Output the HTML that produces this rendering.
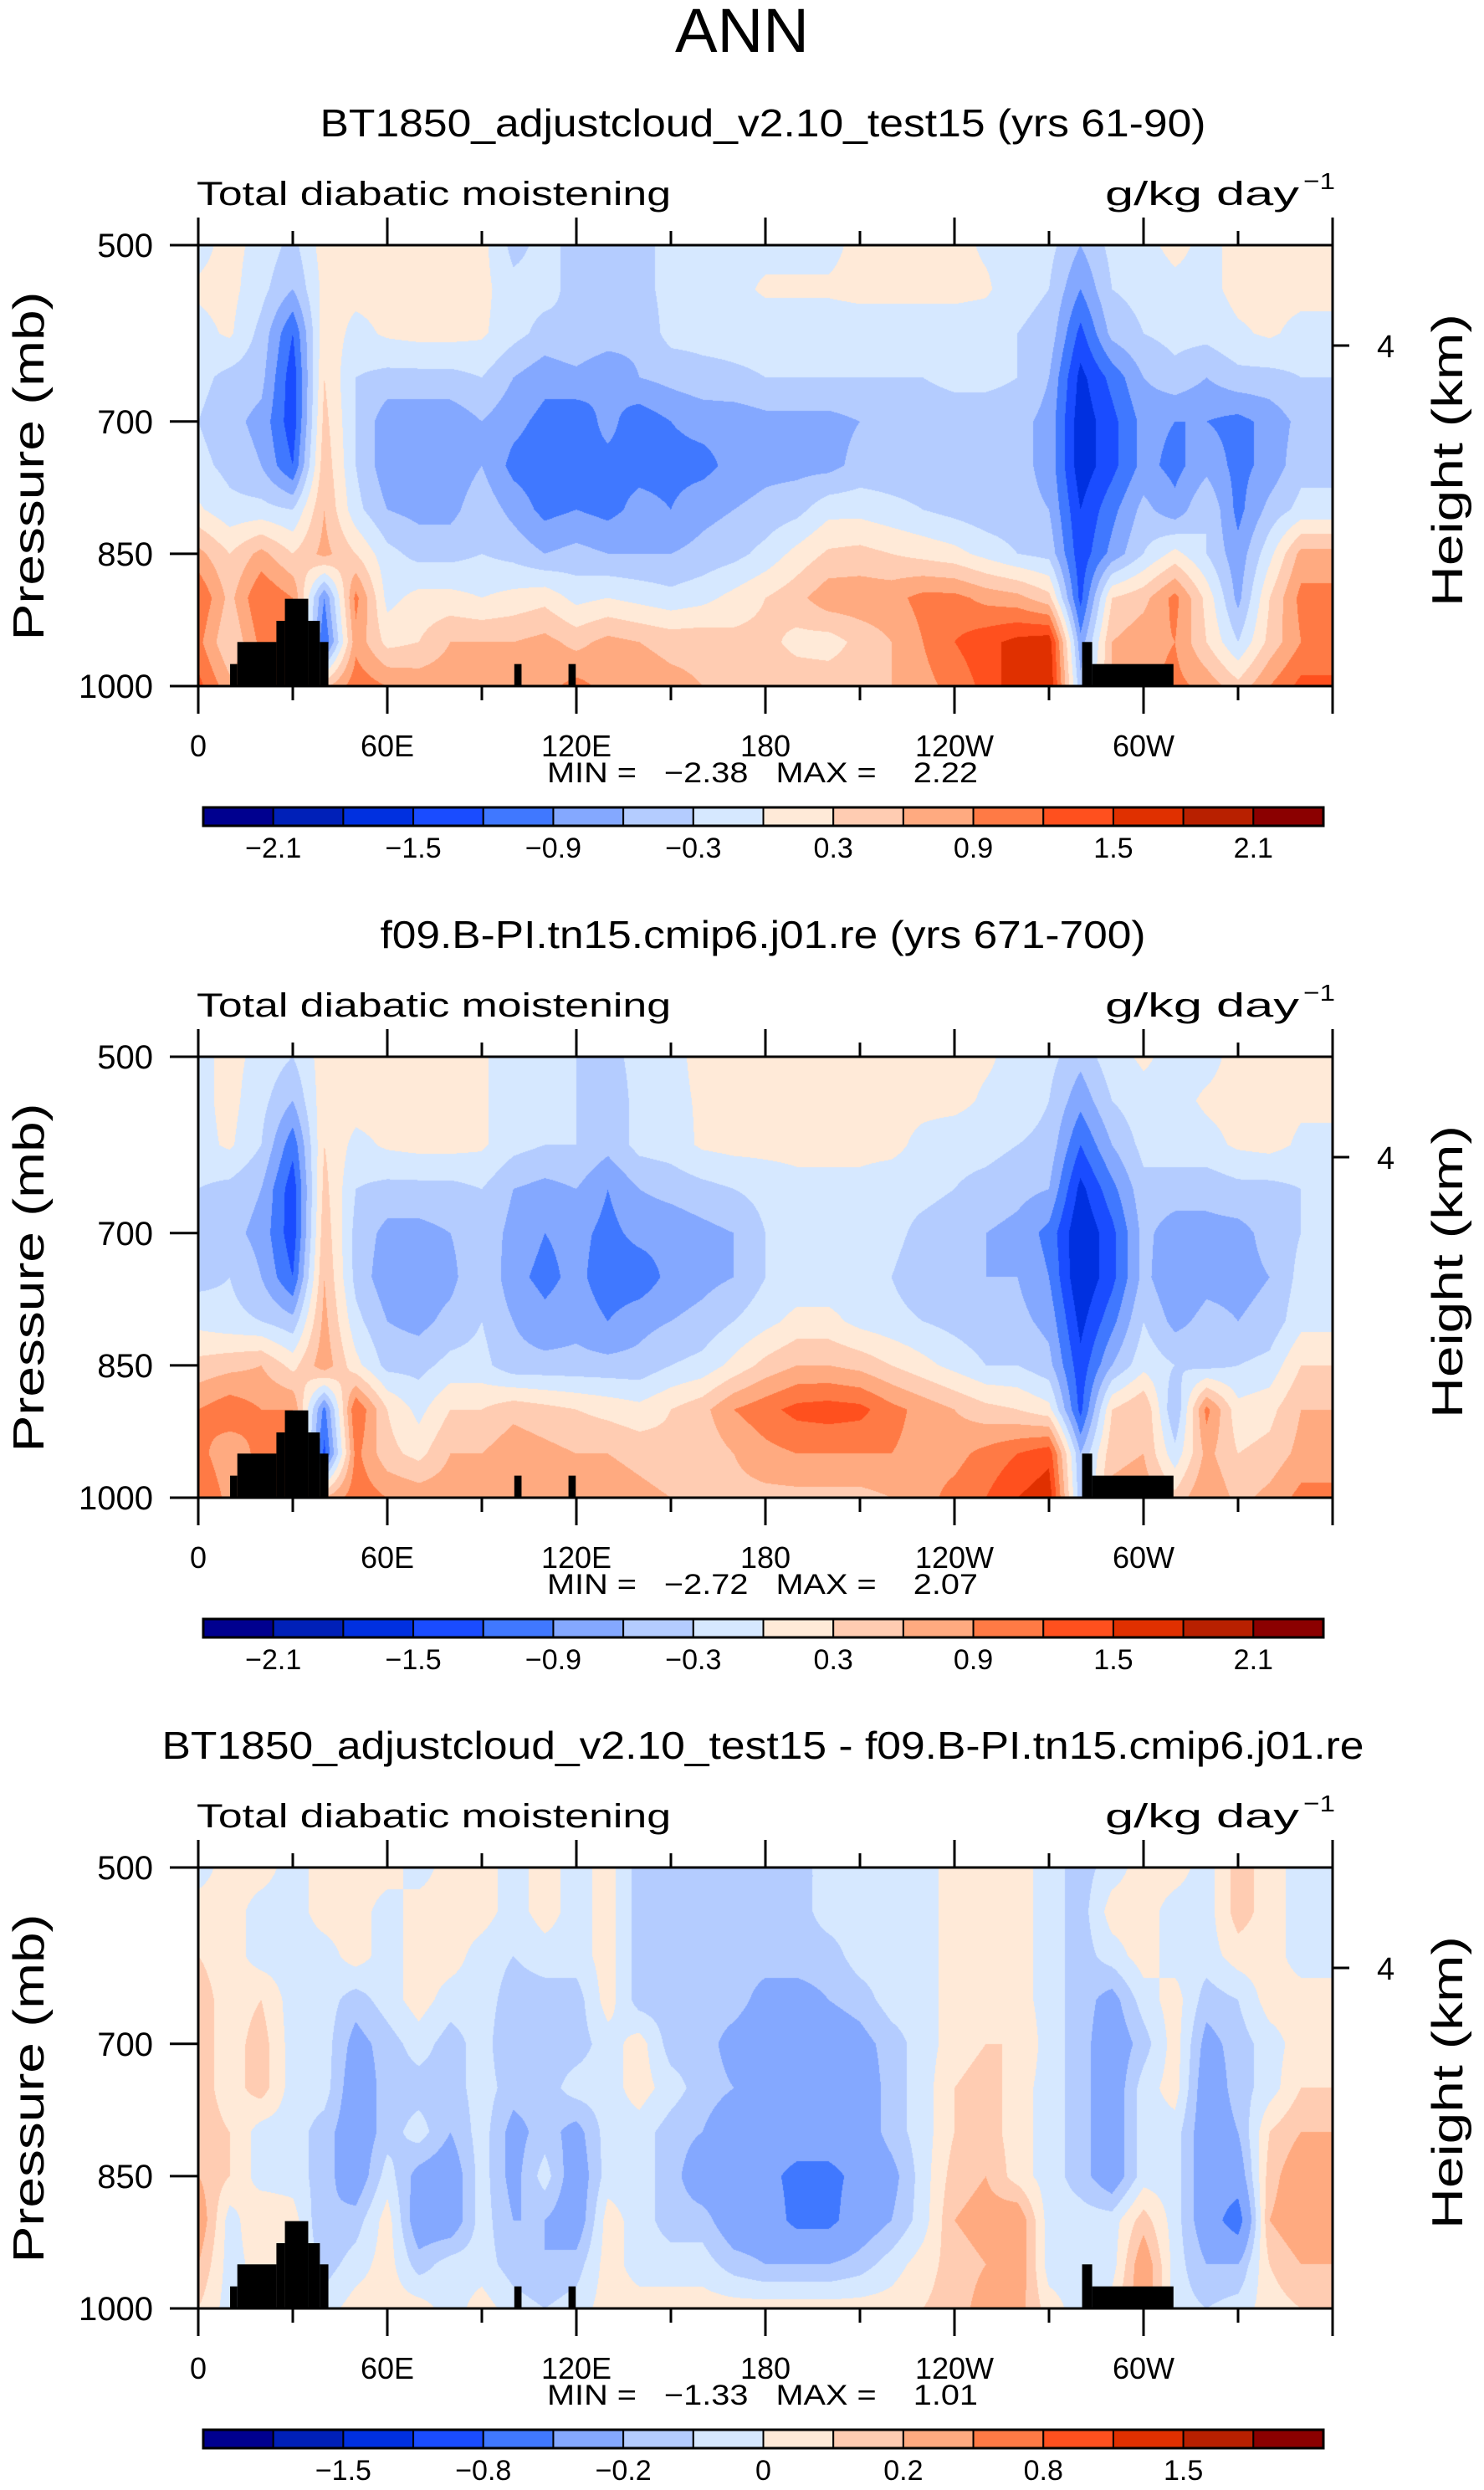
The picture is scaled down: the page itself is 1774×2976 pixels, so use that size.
<!DOCTYPE html>
<html><head><meta charset="utf-8">
<style>
html,body{margin:0;padding:0;background:#fff;}
#root{position:relative;width:1774px;height:2976px;overflow:hidden;background:#fff;}
canvas{position:absolute;}
svg{position:absolute;left:0;top:0;}
text{font-family:"Liberation Sans",sans-serif;fill:#000;}
.pre{white-space:pre;}
</style></head>
<body>
<div id="root">
<canvas id="c0" width="1356" height="527" style="left:237px;top:293px"></canvas>
<canvas id="c1" width="1356" height="527" style="left:237px;top:1263px"></canvas>
<canvas id="c2" width="1356" height="527" style="left:237px;top:2232px"></canvas>
<svg id="svg" width="1774" height="2976" xmlns="http://www.w3.org/2000/svg">
<text x="887" y="62" font-size="74" text-anchor="middle" textLength="160" lengthAdjust="spacingAndGlyphs" fill="#222">ANN</text>
</svg>
</div>
<script>
// ---------- data ----------
const lons = [0,10,20,30,40,50,60,70,80,90,100,110,120,130,140,150,160,170,180,190,200,210,220,230,240,250,260,270,280,290,300,310,320,330,340,350];
const levs = [500,550,600,650,700,750,800,850,900,950,1000];
const xTickLabels = ["0","60E","120E","180","120W","60W"];
const yTickLabels = [500,700,850,1000];
const mainLevels = [-2.1,-1.8,-1.5,-1.2,-0.9,-0.6,-0.3,0,0.3,0.6,0.9,1.2,1.5,1.8,2.1];
const diffLevels = [-1.8,-1.5,-1.2,-0.8,-0.4,-0.2,-0.1,0,0.1,0.2,0.4,0.8,1.2,1.5,1.8];
const mainBarLabels = ["−2.1","−1.5","−0.9","−0.3","0.3","0.9","1.5","2.1"];
const mainBarLabelIdx = [1,3,5,7,9,11,13,15];
const diffBarLabels = ["−1.5","−0.8","−0.2","0","0.2","0.8","1.5"];
const diffBarLabelIdx = [2,4,6,8,10,12,14];
const colors = ["#00008f","#0020b8","#0030e0","#1a4cff","#4078ff","#84a8ff","#b4ccff","#d6e8ff","#ffead8","#ffccb2","#ffaa80","#ff7a45","#ff501e","#e03000","#b82000","#8b0000"];
// topography blocks: [lon0, lon1, top pressure]
const topoLon0 = [10.1,12.4,24.8,27.5,34.9,38.6,100.3,117.5,280.5,283.7];
const topoLon1 = [12.4,24.8,27.5,34.9,38.6,41.3,102.6,119.8,283.7,309.5];
const topoTop  = [975,950,926,901,926,950,975,975,950,975];

const ctrlField = [
[-0.1,0.1,-0.1,-0.4,0.15,0.15,0.15,0.15,0.15,0.1,-0.4,-0.2,-0.4,-0.4,-0.4,-0.2,-0.2,-0.1,-0.1,-0.1,-0.1,0.1,0.1,0.1,0.1,-0.05,-0.1,-0.2,-0.6,-0.2,-0.1,0.1,-0.1,0.1,0.1,0.1],
[0.05,0.1,-0.2,-0.6,0.1,0.1,0.1,0.1,0.1,0.1,-0.2,-0.2,-0.4,-0.4,-0.4,-0.2,-0.2,-0.1,0.05,0.05,0.05,0.1,0.1,0.1,0.1,0.05,-0.2,-0.3,-0.9,-0.3,-0.2,-0.1,-0.1,0.1,0.1,0.1],
[-0.1,0.05,-0.4,-1.2,0.2,-0.1,0.05,0.1,0.1,0.05,-0.2,-0.4,-0.3,-0.4,-0.5,-0.2,-0.2,-0.2,-0.2,-0.2,-0.2,-0.2,-0.2,-0.2,-0.2,-0.2,-0.3,-0.4,-1.3,-0.5,-0.3,-0.2,-0.2,-0.05,0.05,-0.1],
[-0.2,-0.4,-0.5,-1.4,0.3,-0.3,-0.4,-0.4,-0.4,-0.3,-0.6,-0.8,-0.7,-0.9,-0.6,-0.5,-0.4,-0.35,-0.3,-0.3,-0.3,-0.3,-0.3,-0.3,-0.2,-0.2,-0.3,-0.6,-1.6,-1.1,-0.6,-0.4,-0.6,-0.4,-0.4,-0.3],
[-0.3,-0.5,-0.7,-1.4,0.4,-0.3,-0.8,-0.8,-0.8,-0.6,-0.8,-1.0,-1.1,-0.8,-1.1,-0.9,-0.8,-0.8,-0.7,-0.7,-0.7,-0.6,-0.5,-0.5,-0.5,-0.5,-0.5,-0.7,-1.7,-1.3,-0.8,-0.9,-0.9,-1.0,-0.8,-0.5],
[-0.2,-0.4,-0.6,-1.2,0.5,-0.3,-0.8,-0.8,-0.8,-0.6,-1.0,-1.1,-1.0,-1.0,-1.0,-1.0,-1.0,-0.8,-0.7,-0.7,-0.7,-0.5,-0.5,-0.5,-0.5,-0.5,-0.5,-0.7,-1.7,-1.3,-0.8,-1.0,-0.7,-1.0,-0.8,-0.4],
[0.05,-0.2,-0.2,-0.3,0.6,-0.2,-0.6,-0.7,-0.7,-0.4,-0.7,-1.0,-0.9,-1.0,-0.8,-0.9,-0.7,-0.6,-0.5,-0.4,-0.1,-0.1,-0.2,-0.3,-0.4,-0.5,-0.5,-0.6,-1.5,-1.0,-0.5,-0.8,-0.3,-1.0,-0.5,-0.2],
[0.7,0.3,0.7,0.3,0.7,0.3,-0.2,-0.4,-0.4,-0.3,-0.4,-0.6,-0.5,-0.6,-0.6,-0.6,-0.5,-0.4,-0.2,0.1,0.35,0.4,0.3,0.2,0.1,-0.1,-0.3,-0.4,-1.4,-0.8,-0.3,0.1,-0.3,-0.8,-0.1,0.7],
[1.2,0.5,1.2,0.9,-0.9,1.0,-0.1,0.1,0.1,0.0,0.1,0.2,-0.1,0.0,-0.1,-0.2,-0.1,0.1,0.3,0.5,0.8,0.8,0.8,1.0,1.0,0.8,0.7,0.4,-1.3,0.3,0.5,1.0,0.2,-0.7,0.3,1.0],
[1.0,0.3,1.0,1.0,-1.2,0.8,0.2,0.3,0.6,0.6,0.6,0.7,0.5,0.7,0.6,0.5,0.5,0.4,0.4,0.2,0.15,0.4,0.6,0.9,1.2,1.4,1.6,1.7,-0.8,0.6,0.8,0.9,0.3,-0.3,0.4,0.9],
[1.3,0.7,1.0,1.0,0.5,1.1,0.9,0.8,0.8,0.9,0.7,0.8,1.0,0.8,0.8,0.7,0.6,0.5,0.5,0.5,0.5,0.5,0.6,0.8,1.0,1.3,1.7,1.8,-0.5,0.6,0.8,1.0,0.8,0.4,0.9,1.3]
];
const refField = [
[-0.1,0.1,-0.1,-0.3,0.15,0.15,0.15,0.15,0.15,0.05,-0.2,-0.3,-0.3,-0.4,-0.2,-0.1,0.1,0.1,0.1,0.1,0.1,0.1,0.1,0.1,0.1,0.05,-0.1,-0.2,-0.5,-0.1,0.05,-0.1,-0.1,0.1,0.1,0.1],
[-0.1,0.1,-0.2,-0.6,0.2,0.15,0.15,0.15,0.15,0.05,-0.2,-0.2,-0.3,-0.5,-0.2,-0.1,0.05,0.1,0.1,0.1,0.1,0.1,0.1,0.1,0.1,-0.05,-0.1,-0.3,-0.8,-0.3,-0.1,-0.1,0.05,0.1,0.1,0.05],
[-0.1,0.05,-0.3,-1.1,0.3,-0.1,0.05,0.1,0.1,0.05,-0.2,-0.3,-0.3,-0.5,-0.2,-0.15,0.05,0.1,0.1,0.1,0.1,0.1,0.1,-0.1,-0.2,-0.2,-0.3,-0.4,-1.2,-0.6,-0.2,-0.2,-0.1,0.05,0.1,-0.05],
[-0.3,-0.4,-0.6,-1.4,0.4,-0.3,-0.4,-0.4,-0.4,-0.3,-0.6,-0.7,-0.6,-0.9,-0.6,-0.5,-0.4,-0.3,-0.2,-0.1,-0.1,-0.1,-0.2,-0.2,-0.3,-0.4,-0.5,-0.6,-1.6,-1.0,-0.4,-0.4,-0.5,-0.4,-0.4,-0.3],
[-0.4,-0.5,-0.7,-1.4,0.5,-0.4,-0.7,-0.7,-0.6,-0.4,-0.7,-0.9,-0.8,-1.0,-0.8,-0.8,-0.7,-0.6,-0.3,-0.2,-0.2,-0.2,-0.2,-0.4,-0.5,-0.6,-0.7,-1.0,-1.8,-1.3,-0.5,-0.8,-0.7,-0.7,-0.5,-0.3],
[-0.4,-0.3,-0.6,-1.2,0.6,-0.4,-0.8,-0.8,-0.7,-0.3,-0.8,-1.0,-0.8,-1.1,-1.1,-0.8,-0.7,-0.6,-0.3,-0.2,-0.2,-0.2,-0.3,-0.5,-0.6,-0.6,-0.6,-0.9,-1.8,-1.3,-0.5,-0.9,-0.7,-0.7,-0.6,-0.2],
[-0.1,-0.2,-0.3,-0.5,0.7,-0.2,-0.6,-0.7,-0.5,-0.3,-0.6,-0.8,-0.7,-0.9,-0.7,-0.6,-0.5,-0.3,-0.1,0.1,0.1,-0.1,-0.2,-0.3,-0.4,-0.5,-0.5,-0.7,-1.6,-1.0,-0.3,-0.7,-0.5,-0.6,-0.5,-0.1],
[0.4,0.5,0.6,0.2,0.8,0.1,-0.4,-0.4,-0.2,-0.2,-0.5,-0.5,-0.5,-0.5,-0.5,-0.3,-0.2,0.1,0.4,0.6,0.6,0.5,0.3,0.1,-0.1,-0.3,-0.3,-0.5,-1.4,-0.6,-0.1,-0.3,-0.4,-0.3,-0.2,0.3],
[0.9,1.1,0.9,0.9,-1.0,1.2,0.3,-0.1,0.3,0.3,0.5,0.4,0.3,0.2,0.1,0.3,0.5,0.9,1.1,1.3,1.35,1.3,1.0,0.8,0.6,0.4,0.3,0.1,-1.3,0.3,0.6,-0.6,1.0,0.1,0.2,0.6],
[1.0,0.7,1.0,1.0,-1.3,1.0,0.4,0.2,0.6,0.6,0.8,0.7,0.6,0.6,0.5,0.4,0.4,0.6,0.8,0.9,0.9,0.9,0.9,0.8,0.8,1.0,1.2,1.4,-0.6,0.5,0.6,-0.2,0.7,0.3,0.4,0.7],
[1.2,0.8,1.0,1.0,0.6,1.1,0.9,0.8,0.8,0.9,0.9,0.9,0.9,0.8,0.7,0.6,0.5,0.5,0.5,0.5,0.5,0.5,0.6,0.8,1.0,1.2,1.5,1.7,-0.5,0.7,0.8,0.4,0.9,0.5,0.7,1.0]
];
const diffField = [
[-0.05,0.05,0.05,-0.05,0.05,0.05,0.05,-0.05,0.05,0.05,-0.05,0.05,-0.05,0.05,-0.15,-0.15,-0.15,-0.15,-0.15,-0.15,-0.05,-0.05,-0.05,-0.05,0.05,0.05,0.05,-0.05,-0.15,-0.05,0.05,0.05,-0.05,0.15,0.05,-0.05],
[0.05,0.05,-0.05,-0.05,0.05,0.05,-0.05,0.05,0.05,0.05,-0.05,0.05,-0.05,0.05,-0.15,-0.15,-0.15,-0.15,-0.15,-0.15,-0.05,-0.05,-0.05,-0.05,0.05,0.05,0.05,-0.05,-0.15,0.05,0.05,-0.05,-0.05,0.15,0.05,-0.05],
[0.1,0.05,-0.05,-0.05,-0.05,0.05,-0.05,0.05,0.05,-0.05,-0.1,-0.05,-0.05,0.05,-0.15,-0.15,-0.15,-0.15,-0.15,-0.15,-0.15,-0.05,-0.05,-0.05,0.05,0.05,0.05,-0.05,-0.15,-0.05,0.05,-0.05,-0.05,0.05,0.05,-0.05],
[0.15,0.05,0.1,-0.05,-0.05,-0.15,-0.05,0.05,-0.05,-0.05,-0.15,-0.15,-0.15,0.05,-0.15,-0.15,-0.15,-0.15,-0.25,-0.25,-0.2,-0.15,-0.05,-0.05,0.05,0.1,0.05,-0.05,-0.15,-0.25,-0.05,0.05,-0.15,-0.1,0.05,0.05],
[0.15,0.05,0.15,-0.05,-0.05,-0.25,-0.15,-0.05,-0.15,-0.05,-0.2,-0.15,-0.15,-0.05,0.05,-0.15,-0.15,-0.25,-0.3,-0.3,-0.3,-0.25,-0.15,-0.05,0.05,0.1,0.1,-0.05,-0.15,-0.3,-0.15,0.05,-0.25,-0.15,-0.05,0.05],
[0.15,0.05,0.15,-0.05,-0.05,-0.3,-0.15,-0.15,-0.15,-0.05,-0.15,-0.15,-0.05,-0.05,0.05,-0.05,-0.15,-0.2,-0.3,-0.3,-0.3,-0.3,-0.15,-0.05,0.1,0.15,0.05,-0.05,-0.15,-0.3,-0.05,0.05,-0.3,-0.15,-0.05,0.1],
[0.15,0.1,-0.05,-0.05,-0.15,-0.3,-0.15,-0.05,-0.2,-0.05,-0.25,-0.15,-0.25,-0.05,-0.05,-0.15,-0.2,-0.3,-0.3,-0.3,-0.3,-0.3,-0.15,-0.05,0.1,0.15,0.05,-0.05,-0.15,-0.3,-0.05,-0.05,-0.3,-0.2,0.1,0.2],
[0.2,0.1,-0.05,-0.05,-0.15,-0.3,-0.05,-0.25,-0.3,-0.05,-0.25,-0.05,-0.3,-0.05,-0.05,-0.15,-0.3,-0.3,-0.35,-0.45,-0.45,-0.35,-0.25,-0.05,0.15,0.2,0.05,-0.05,-0.15,-0.3,-0.05,-0.05,-0.3,-0.3,0.15,0.3],
[0.3,-0.05,0.1,0.05,-0.2,-0.15,0.05,-0.3,-0.3,-0.05,-0.2,-0.2,-0.3,0.05,-0.05,-0.15,-0.15,-0.3,-0.3,-0.45,-0.45,-0.3,-0.2,-0.05,0.2,0.25,0.3,-0.05,-0.05,-0.05,0.15,-0.05,-0.3,-0.5,0.2,0.3],
[0.2,-0.05,0.05,0.05,-0.15,-0.05,0.05,-0.15,-0.05,-0.05,-0.15,-0.2,-0.15,0.05,-0.05,-0.05,-0.05,-0.15,-0.2,-0.2,-0.2,-0.15,-0.05,0.05,0.15,0.2,0.3,-0.05,-0.05,-0.05,0.3,-0.05,-0.2,-0.2,0.1,0.2],
[0.1,-0.05,0.05,0.05,-0.05,0.05,0.05,0.05,-0.05,0.05,-0.05,-0.1,-0.05,0.05,0.05,0.05,0.05,0.05,0.05,0.05,0.05,0.05,0.05,0.1,0.15,0.25,0.25,0.05,-0.05,0.05,0.3,-0.05,-0.1,-0.05,0.05,0.1]
];

const panelTitles = ["BT1850_adjustcloud_v2.10_test15 (yrs 61-90)","f09.B-PI.tn15.cmip6.j01.re (yrs 671-700)","BT1850_adjustcloud_v2.10_test15 - f09.B-PI.tn15.cmip6.j01.re"];
const panelTitleWidths = [1059,915,1437];
const panelMin = ["−2.38","−2.72","−1.33"];
const panelMax = ["2.22","2.07","1.01"];

// ---------- layout ----------
const PL = 237, PW = 1356, PH = 527;
const panelTops = [293,1263,2232];
const panelNames = ["control","reference","difference"];
const fields = [ctrlField, refField, diffField];
const levelSets = [mainLevels, mainLevels, diffLevels];
const NS = "http://www.w3.org/2000/svg";
const svg = document.getElementById('svg');

function xOf(lon){ return PL + lon/360*PW; }
function yOf(p, top){ return top + (p-500)/500*PH; }

function mk(tag, attrs, parent){
  const e = document.createElementNS(NS, tag);
  for (const k in attrs) e.setAttribute(k, attrs[k]);
  (parent||svg).appendChild(e);
  return e;
}
function sample(field, lon, p){
  let fi = lon/10; if (fi > 35) fi = 35; if (fi<0) fi=0;
  let fj = (p-500)/50; if (fj>10) fj=10; if (fj<0) fj=0;
  const i0 = Math.floor(fi), i1 = Math.min(i0+1,35), j0 = Math.floor(fj), j1 = Math.min(j0+1,10);
  const tx = fi-i0, ty = fj-j0;
  const g=(j,i)=>{ const r=field[j]; const v=r[i]; return v===undefined? r[r.length-1] : v; };
  const a = g(j0,i0)*(1-tx)+g(j0,i1)*tx;
  const b = g(j1,i0)*(1-tx)+g(j1,i1)*tx;
  return a*(1-ty)+b*ty;
}
function hex(c){ return [parseInt(c.substr(1,2),16),parseInt(c.substr(3,2),16),parseInt(c.substr(5,2),16)]; }
const rgb = colors.map(hex);
function binOf(v, levels){ let k=0; while(k<levels.length && v>=levels[k]) k++; return k; }

panelTops.forEach((top, pi)=>{
  const cv = document.getElementById('c'+pi);
  const ctx = cv.getContext('2d');
  const img = ctx.createImageData(PW, PH);
  for (let y=0;y<PH;y++){
    const p = 500 + (y+0.5)/PH*500;
    for (let x=0;x<PW;x++){
      const lon = (x+0.5)/PW*360;
      const c = rgb[binOf(sample(fields[pi],lon,p), levelSets[pi])];
      const o = (y*PW+x)*4;
      img.data[o]=c[0]; img.data[o+1]=c[1]; img.data[o+2]=c[2]; img.data[o+3]=255;
    }
  }
  ctx.putImageData(img,0,0);
  const dy = top - 293;

  topoLon0.forEach((l0,k)=>{
    const r = mk('rect',{x:xOf(l0),y:yOf(topoTop[k],top),width:xOf(topoLon1[k])-xOf(l0),height:yOf(1000,top)-yOf(topoTop[k],top),fill:'#000'});
    
    
  });

  const fr = mk('rect',{x:PL,y:top,width:PW,height:PH,fill:'none',stroke:'#000','stroke-width':3});
  
  

  const t = mk('text',{x:912,y:163+dy,'font-size':46,'text-anchor':'middle',textLength:panelTitleWidths[pi],lengthAdjust:'spacingAndGlyphs'});
  t.textContent = panelTitles[pi];
  
  
  const lt = mk('text',{x:235,y:245+dy,'font-size':40,textLength:567,lengthAdjust:'spacingAndGlyphs'});
  lt.textContent = 'Total diabatic moistening';
  
  
  const ut = mk('text',{x:1321,y:245+dy,'font-size':40,textLength:232,lengthAdjust:'spacingAndGlyphs'});
  ut.textContent = 'g/kg day';
  
  
  const us = mk('text',{x:1558,y:226+dy,'font-size':28,textLength:38,lengthAdjust:'spacingAndGlyphs'});
  us.textContent = '−1';
  
  

  yTickLabels.forEach(p=>{
    const y = yOf(p,top);
    const tk = mk('line',{x1:PL-34,x2:PL,y1:y,y2:y,stroke:'#000','stroke-width':3});
    
    
    const tl = mk('text',{x:183,y:y+14,'font-size':40,'text-anchor':'end'});
    tl.textContent = String(p);
    
    
  });
  const yt = mk('text',{x:0,y:0,'font-size':52,'text-anchor':'middle',textLength:417,lengthAdjust:'spacingAndGlyphs',transform:'translate(52,'+(557+dy)+') rotate(-90)'});
  yt.textContent = 'Pressure (mb)';
  
  
  const ht = mk('text',{x:0,y:0,'font-size':52,'text-anchor':'middle',textLength:350,lengthAdjust:'spacingAndGlyphs',transform:'translate(1748,'+(550+dy)+') rotate(-90)'});
  ht.textContent = 'Height (km)';
  
  
  const rt = mk('line',{x1:PL+PW,x2:PL+PW+20,y1:413+dy,y2:413+dy,stroke:'#000','stroke-width':3});
  
  
  const rl = mk('text',{x:1646,y:427+dy,'font-size':38});
  rl.textContent = '4';
  
  

  for (let lon=0; lon<=360; lon+=30){
    const major = lon%60===0;
    const len = major?33:17;
    const x = xOf(lon);
    const t1 = mk('line',{x1:x,x2:x,y1:top-len,y2:top,stroke:'#000','stroke-width':3});
    
    
    const t2 = mk('line',{x1:x,x2:x,y1:top+PH,y2:top+PH+len,stroke:'#000','stroke-width':3});
    
    
  }
  xTickLabels.forEach((lab,k)=>{
    const tl = mk('text',{x:xOf(k*60),y:904+dy,'font-size':36,'text-anchor':'middle'});
    tl.textContent = lab;
    
    
  });
  const mm = mk('text',{x:654,y:935+dy,'font-size':34,textLength:515,lengthAdjust:'spacingAndGlyphs','class':'pre'});
  mm.textContent = 'MIN =   '+panelMin[pi]+'   MAX =    '+panelMax[pi];
  
  

  const bx = 243, bw = 1339, by = 965+dy, bh = 22, n = colors.length, cw = bw/n;
  colors.forEach((c,k)=>{
    const r = mk('rect',{x:bx+k*cw,y:by,width:cw,height:bh,fill:c,stroke:'#000','stroke-width':2});
    
    
  });
  const ob = mk('rect',{x:bx,y:by,width:bw,height:bh,fill:'none',stroke:'#000','stroke-width':3});
  
  
  const labs = pi<2 ? mainBarLabels : diffBarLabels;
  const idx = pi<2 ? mainBarLabelIdx : diffBarLabelIdx;
  labs.forEach((lab,k)=>{
    const tl = mk('text',{x:bx+idx[k]*cw,y:by+60,'font-size':34,'text-anchor':'middle'});
    tl.textContent = lab;
    
    
  });
});
</script>
</body></html>
